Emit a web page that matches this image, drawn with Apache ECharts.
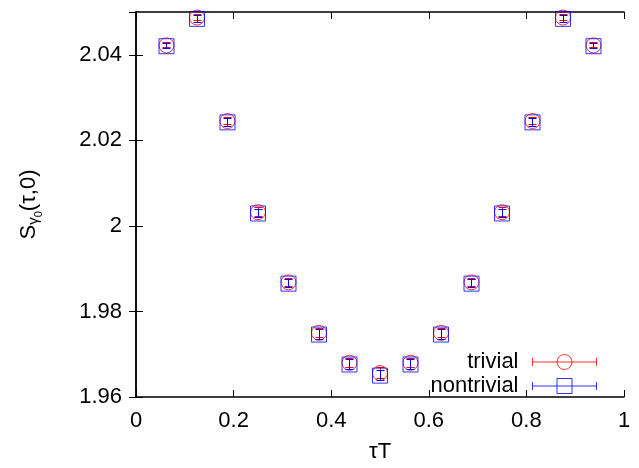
<!DOCTYPE html>
<html>
<head>
<meta charset="utf-8">
<script src="https://cdn.jsdelivr.net/npm/echarts@6/dist/echarts.min.js"></script>
<style>html,body{margin:0;padding:0;background:#fff}#c{width:639px;height:468px}</style>
</head>
<body>
<div id="c"></div>
<script>
const tauT = [0.0625, 0.125, 0.1875, 0.25, 0.3125, 0.375, 0.4375, 0.5, 0.5625, 0.625, 0.6875, 0.75, 0.8125, 0.875, 0.9375];
const trivial = [2.0422, 2.0487, 2.0245, 2.0032, 1.9868, 1.9750, 1.9680, 1.9656, 1.9680, 1.9750, 1.9868, 2.0032, 2.0245, 2.0487, 2.0422];
const trivialErr = [0.0006, 0.0008, 0.0009, 0.0010, 0.0010, 0.0011, 0.0011, 0.0012, 0.0011, 0.0011, 0.0010, 0.0010, 0.0009, 0.0008, 0.0006];
const nontrivial = [2.0420, 2.0484, 2.0242, 2.0029, 1.9865, 1.9746, 1.9676, 1.9650, 1.9676, 1.9746, 1.9865, 2.0029, 2.0242, 2.0484, 2.0420];
const nontrivialErr = [0.0006, 0.0008, 0.0009, 0.0010, 0.0010, 0.0011, 0.0011, 0.0012, 0.0011, 0.0011, 0.0010, 0.0010, 0.0009, 0.0008, 0.0006];
const seriesNames = ['trivial', 'nontrivial'];
const colors = ['#ff0000', '#0000ff'];

const FONT = "'Liberation Sans', Arial, sans-serif";
const chart = echarts.init(document.getElementById('c'), null, {renderer: 'canvas'});

function snap(v) { return Math.round(v - 0.5) + 0.5; }
function errData(vals, errs) {
  return tauT.map((t, i) => [t, vals[i], errs[i]]);
}
function errSeries(name, vals, errs, color, z) {
  return {
    type: 'custom', name: name + ' err', silent: true, z: z,
    data: errData(vals, errs),
    renderItem: function (params, api) {
      const x = api.value(0), y = api.value(1), e = api.value(2);
      const lo = api.coord([x, y - e]);
      const hi = api.coord([x, y + e]);
      const cx = snap(lo[0]);
      const ylo = snap(lo[1]), yhi = snap(hi[1]);
      const w = 4;
      const st = {stroke: color, lineWidth: 1};
      return {
        type: 'group',
        children: [
          {type: 'line', shape: {x1: cx, y1: ylo, x2: cx, y2: yhi}, style: st},
          {type: 'line', shape: {x1: cx - w, y1: ylo, x2: cx + w, y2: ylo}, style: st},
          {type: 'line', shape: {x1: cx - w, y1: yhi, x2: cx + w, y2: yhi}, style: st}
        ]
      };
    }
  };
}

const axisLineStyle = {color: '#000', width: 1.5};
const iconCircle = 'path://M0,8H64M0,4V12M64,4V12M39.5,8A7.5,7.5,0,1,1,24.5,8A7.5,7.5,0,1,1,39.5,8Z';
const iconRect = 'path://M0,8H64M0,4V12M64,4V12M24.5,0.5H39.5V15.5H24.5Z';

chart.setOption({
  animation: false,
  backgroundColor: '#fff',
  textStyle: {fontFamily: FONT},
  grid: {left: 136, right: 15, top: 12, bottom: 66, containLabel: false},
  legend: {
    orient: 'vertical', right: 37, top: 345, align: 'right',
    itemWidth: 64, itemHeight: 16, itemGap: 0,
    textStyle: {fontFamily: FONT, fontSize: 22, color: '#000', lineHeight: 24, padding: [0, 9, 0, 0]},
    data: [
      {name: seriesNames[0], icon: iconCircle, itemStyle: {color: 'rgba(0,0,0,0)', borderColor: colors[0], borderWidth: 1}},
      {name: seriesNames[1], icon: iconRect, itemStyle: {color: 'rgba(0,0,0,0)', borderColor: colors[1], borderWidth: 1}}
    ],
    selectedMode: false
  },
  xAxis: [{
    type: 'value', min: 0, max: 1, interval: 0.2, position: 'bottom',
    name: 'τT', nameLocation: 'middle', nameGap: 44,
    nameTextStyle: {fontFamily: FONT, fontSize: 22, color: '#000'},
    axisLine: {show: true, lineStyle: axisLineStyle},
    axisTick: {show: true, inside: true, length: 7, lineStyle: {color: '#000', width: 1}},
    axisLabel: {fontFamily: FONT, fontSize: 22, color: '#000', margin: 13},
    splitLine: {show: false}
  }, {
    type: 'value', min: 0, max: 1, interval: 0.2, position: 'top',
    axisLine: {show: true, lineStyle: axisLineStyle},
    axisTick: {show: true, inside: true, length: 7, lineStyle: {color: '#000', width: 1}},
    axisLabel: {show: false}, splitLine: {show: false}
  }],
  yAxis: [{
    type: 'value', min: 1.96, max: 2.05, interval: 0.02, position: 'left',
    name: '{s|S}{g|γ}{z|0}{p|(τ,0)}', nameLocation: 'middle', nameGap: 92, nameRotate: 90,
    nameTextStyle: {
      fontFamily: FONT, fontSize: 22, color: '#000',
      rich: {
        s: {fontFamily: FONT, fontSize: 22, color: '#000'},
        g: {fontFamily: FONT, fontSize: 15, color: '#000', padding: [10, 0, 0, 0]},
        z: {fontFamily: FONT, fontSize: 11, color: '#000', padding: [20, 0, 0, 0]},
        p: {fontFamily: FONT, fontSize: 22, color: '#000'}
      }
    },
    axisLine: {show: true, lineStyle: axisLineStyle},
    axisTick: {show: true, inside: true, length: 7, lineStyle: {color: '#000', width: 1}},
    axisLabel: {fontFamily: FONT, fontSize: 22, color: '#000', margin: 14, showMaxLabel: false},
    splitLine: {show: false}
  }, {
    type: 'value', min: 1.96, max: 2.05, interval: 0.02, position: 'right',
    axisLine: {show: true, lineStyle: axisLineStyle},
    axisTick: {show: true, inside: true, length: 7, lineStyle: {color: '#000', width: 1}},
    axisLabel: {show: false}, splitLine: {show: false}
  }],
  series: [
    {
      type: 'scatter', name: seriesNames[0], symbol: 'circle', symbolSize: 15, z: 2,
      data: tauT.map((t, i) => [t, trivial[i]]),
      itemStyle: {color: 'rgba(0,0,0,0)', borderColor: colors[0], borderWidth: 1},
      silent: true
    },
    errSeries(seriesNames[0], trivial, trivialErr, colors[0], 3),
    {
      type: 'scatter', name: seriesNames[1], symbol: 'rect', symbolSize: 15, z: 4,
      data: tauT.map((t, i) => [t, nontrivial[i]]),
      itemStyle: {color: 'rgba(0,0,0,0)', borderColor: colors[1], borderWidth: 1},
      silent: true
    },
    errSeries(seriesNames[1], nontrivial, nontrivialErr, colors[1], 5)
  ]
});
</script>
</body>
</html>
